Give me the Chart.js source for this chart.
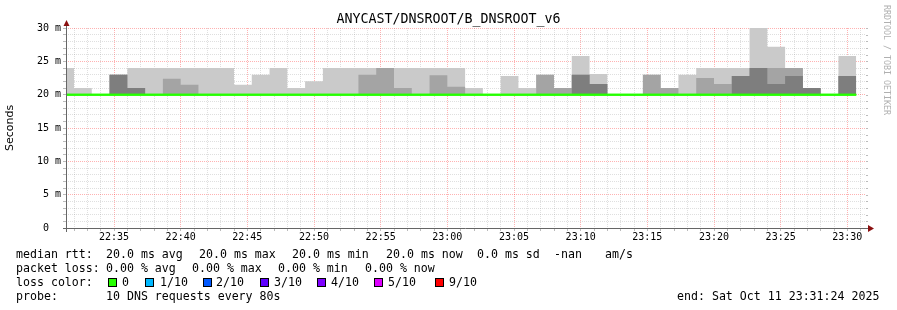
<!DOCTYPE html>
<html lang="en">
<head>
  <meta charset="UTF-8">
  <title>ANYCAST/DNSROOT/B_DNSROOT_v6</title>
  <script src="https://cdn.jsdelivr.net/npm/chart.js"></script>
  <style>
    body {
      margin: 0;
      background: #fff;
    }
    .wrap {
      position: relative;
      width: 897px;
      height: 310px;
      font-family: 'DejaVu Sans Mono', monospace;
      color: #000;
    }
    canvas {
      position: absolute;
      left: 0;
      top: 0;
    }
    .t {
      position: absolute;
      white-space: pre;
      font-size: 11.6px;
      line-height: 14px;
    }
    .title {
      position: absolute;
      left: 0;
      top: 11px;
      width: 897px;
      text-align: center;
      font-size: 13.3px;
      line-height: 16px;
    }
    .credit {
      position: absolute;
      left: 882px;
      top: 5px;
      font-size: 8.3px;
      line-height: 10px;
      color: #b0b0b0;
      writing-mode: vertical-rl;
      white-space: pre;
    }
    .box {
      position: absolute;
      top: 278px;
      width: 7px;
      height: 7px;
      border: 1px solid #000;
    }
  </style>
</head>
<body>
  <div class="wrap">
    <canvas id="chart" width="897" height="310"></canvas>
    <div class="title">ANYCAST/DNSROOT/B_DNSROOT_v6</div>
    <div class="credit">RRDTOOL / TOBI OETIKER</div>

    <!-- legenda -->
    <span class="t" style="left:16px;top:247px">median rtt:</span>
    <span class="t" style="left:106px;top:247px">20.0 ms avg</span>
    <span class="t" style="left:199px;top:247px">20.0 ms max</span>
    <span class="t" style="left:292px;top:247px">20.0 ms min</span>
    <span class="t" style="left:386px;top:247px">20.0 ms now</span>
    <span class="t" style="left:477px;top:247px">0.0 ms sd</span>
    <span class="t" style="left:554px;top:247px">-nan</span>
    <span class="t" style="left:605px;top:247px">am/s</span>

    <span class="t" style="left:16px;top:261px">packet loss:</span>
    <span class="t" style="left:106px;top:261px">0.00 % avg</span>
    <span class="t" style="left:192px;top:261px">0.00 % max</span>
    <span class="t" style="left:278px;top:261px">0.00 % min</span>
    <span class="t" style="left:365px;top:261px">0.00 % now</span>

    <span class="t" style="left:16px;top:275px">loss color:</span>
    <div class="box" style="left:108px;background:#26ff00"></div>
    <span class="t" style="left:122px;top:275px">0</span>
    <div class="box" style="left:145px;background:#00b8ff"></div>
    <span class="t" style="left:160px;top:275px">1/10</span>
    <div class="box" style="left:203px;background:#0059ff"></div>
    <span class="t" style="left:216px;top:275px">2/10</span>
    <div class="box" style="left:260px;background:#5e00ff"></div>
    <span class="t" style="left:274px;top:275px">3/10</span>
    <div class="box" style="left:317px;background:#7e00ff"></div>
    <span class="t" style="left:331px;top:275px">4/10</span>
    <div class="box" style="left:374px;background:#dd00ff"></div>
    <span class="t" style="left:388px;top:275px">5/10</span>
    <div class="box" style="left:435px;background:#ff0000"></div>
    <span class="t" style="left:449px;top:275px">9/10</span>

    <span class="t" style="left:16px;top:289px">probe:</span>
    <span class="t" style="left:106px;top:289px">10 DNS requests every 80s</span>
    <span class="t" style="left:677px;top:289px">end: Sat Oct 11 23:31:24 2025</span>
  </div>

  <script>
    // tijdvenster van de grafiek
    const axisStart = '22:31:24';
    const axisEnd = '23:31:24';

    // einde van elk 80s interval
    const slotEnd = [
      '22:32:00', '22:33:20', '22:34:40', '22:36:00', '22:37:20', '22:38:40', '22:40:00', '22:41:20', '22:42:40', '22:44:00',
      '22:45:20', '22:46:40', '22:48:00', '22:49:20', '22:50:40', '22:52:00', '22:53:20', '22:54:40', '22:56:00', '22:57:20',
      '22:58:40', '23:00:00', '23:01:20', '23:02:40', '23:04:00', '23:05:20', '23:06:40', '23:08:00', '23:09:20', '23:10:40',
      '23:12:00', '23:13:20', '23:14:40', '23:16:00', '23:17:20', '23:18:40', '23:20:00', '23:21:20', '23:22:40', '23:24:00',
      '23:25:20', '23:26:40', '23:28:00', '23:29:20', '23:30:40'
    ];

    // smoke: hoogste ping, 9e en 8e ping (ms)
    const maxRtt = [
      24, 21, 20, 23, 24, 24, 24, 24, 24, 24,
      21.5, 23, 24, 21, 22, 24, 24, 24, 24, 24,
      24, 24, 24, 21, 20, 22.8, 21, 23, 21, 25.8,
      23.1, 20, 20, 23, 21, 23, 24, 24, 24, 30,
      27.2, 24, 21, 20, 25.8
    ];
    const ninthRtt = [
      20, 20, 20, 23, 21, 20, 22.4, 21.5, 20, 20,
      20, 20, 20, 20, 20, 20, 20, 23, 24, 21,
      20, 22.9, 21.2, 20, 20, 20, 20, 23, 21, 23,
      21.6, 20, 20, 23, 21, 20, 22.5, 21.6, 22.8, 24,
      24, 24, 21, 20, 22.8
    ];
    const eighthRtt = [
      20, 20, 20, 23, 21, 20, 20, 20, 20, 20,
      20, 20, 20, 20, 20, 20, 20, 20, 20, 20,
      20, 20, 20, 20, 20, 20, 20, 20, 20, 23,
      21.6, 20, 20, 20, 20, 20, 20, 20, 22.8, 24,
      21.6, 22.8, 21, 20, 22.8
    ];
    const medianRtt = [
      20, 20, 20, 20, 20, 20, 20, 20, 20, 20,
      20, 20, 20, 20, 20, 20, 20, 20, 20, 20,
      20, 20, 20, 20, 20, 20, 20, 20, 20, 20,
      20, 20, 20, 20, 20, 20, 20, 20, 20, 20,
      20, 20, 20, 20, 20
    ];

    // as labels
    const timeLabels = ['22:35', '22:40', '22:45', '22:50', '22:55', '23:00', '23:05', '23:10', '23:15', '23:20', '23:25', '23:30'];
    const rttTicks = [0, 5, 10, 15, 20, 25, 30];
    const rttLabels = ['0  ', '5 m', '10 m', '15 m', '20 m', '25 m', '30 m'];

    function toSec(s) {
      const p = s.split(':').map(Number);
      return p[0] * 3600 + p[1] * 60 + (p[2] || 0);
    }

    const xMin = toSec(axisStart);
    const xMax = toSec(axisEnd);
    const labelSecs = timeLabels.map(toSec);

    // stapjes: eerste punt op begin van de as, waarde geldt tot het einde van het interval
    function series(vals) {
      const pts = [{ x: xMin, y: vals[0] }];
      slotEnd.forEach((t, i) => pts.push({ x: toSec(t), y: vals[i] }));
      return pts;
    }

    const minorGrid = 'rgba(128,128,128,0.25)';
    const majorGrid = 'rgba(255,0,0,0.3)';

    const overlay = {
      id: 'overlay',
      afterDraw(chart) {
        const ctx = chart.ctx;
        const a = chart.chartArea;
        // mediaan boven het grid
        ctx.save();
        ctx.beginPath();
        ctx.rect(a.left, a.top, a.right - a.left, a.bottom - a.top);
        ctx.clip();
        chart.getDatasetMeta(3).controller.draw();
        ctx.restore();

        ctx.save();
        // tick streepjes rechts
        ctx.strokeStyle = '#bbb';
        ctx.lineWidth = 1;
        chart.scales.y.ticks.forEach(t => {
          const y = Math.round(chart.scales.y.getPixelForValue(t.value)) + 0.5;
          ctx.beginPath();
          ctx.moveTo(a.right, y);
          ctx.lineTo(a.right + 2, y);
          ctx.stroke();
        });
        // assen
        ctx.strokeStyle = '#666';
        ctx.beginPath();
        ctx.moveTo(a.left + 0.5, a.bottom + 4);
        ctx.lineTo(a.left + 0.5, a.top - 4);
        ctx.moveTo(a.left - 3, a.bottom + 0.5);
        ctx.lineTo(a.right + 2, a.bottom + 0.5);
        ctx.stroke();
        // pijltjes
        ctx.fillStyle = '#8b1010';
        ctx.beginPath();
        ctx.moveTo(a.left - 2.5, a.top - 2);
        ctx.lineTo(a.left + 3.5, a.top - 2);
        ctx.lineTo(a.left + 0.5, a.top - 8);
        ctx.closePath();
        ctx.fill();
        ctx.beginPath();
        ctx.moveTo(a.right + 2, a.bottom - 3);
        ctx.lineTo(a.right + 2, a.bottom + 4);
        ctx.lineTo(a.right + 8, a.bottom + 0.5);
        ctx.closePath();
        ctx.fill();
        ctx.restore();
      }
    };

    function smoke(label, vals, color, order) {
      return {
        label: label,
        data: series(vals),
        stepped: 'after',
        fill: { value: 20 },
        backgroundColor: color,
        borderColor: 'rgba(0,0,0,0)',
        borderWidth: 0,
        pointRadius: 0,
        order: order
      };
    }

    const ctx = document.getElementById('chart').getContext('2d');
    new Chart(ctx, {
      type: 'line',
      data: {
        datasets: [
          smoke('max', maxRtt, '#cacaca', 3),
          smoke('9th', ninthRtt, '#a4a4a4', 2),
          smoke('8th', eighthRtt, '#7e7e7e', 1),
          {
            label: 'median rtt',
            data: series(medianRtt),
            stepped: 'after',
            fill: false,
            borderColor: '#26ff00',
            borderWidth: 2,
            pointRadius: 0,
            order: 0
          }
        ]
      },
      options: {
        responsive: false,
        animation: false,
        events: [],
        layout: { padding: { left: 0, right: 31, top: 28, bottom: 0 } },
        plugins: {
          legend: { display: false },
          tooltip: { enabled: false }
        },
        scales: {
          x: {
            type: 'linear',
            min: xMin,
            max: xMax,
            z: 1,
            afterBuildTicks: s => {
              const ticks = [];
              for (let v = Math.ceil(xMin / 60) * 60; v <= xMax; v += 60) ticks.push({ value: v });
              s.ticks = ticks;
            },
            afterFit: s => { s.height = 82; },
            ticks: {
              autoSkip: false,
              maxRotation: 0,
              padding: 0,
              color: '#000',
              font: { family: 'DejaVu Sans Mono', size: 10 },
              callback: v => {
                const i = labelSecs.indexOf(v);
                return i >= 0 ? timeLabels[i] : '';
              }
            },
            grid: {
              color: c => labelSecs.includes(c.tick.value) ? majorGrid : minorGrid,
              tickColor: '#bbb',
              tickLength: 3
            },
            border: { display: false, dash: [1, 1] }
          },
          y: {
            type: 'linear',
            min: 0,
            max: 30,
            z: 1,
            afterBuildTicks: s => {
              const ticks = [];
              for (let v = 0; v <= 30; v++) ticks.push({ value: v });
              s.ticks = ticks;
            },
            afterFit: s => { s.width = 66; },
            ticks: {
              autoSkip: false,
              padding: 2,
              color: '#000',
              font: { family: 'DejaVu Sans Mono', size: 10 },
              callback: v => {
                const i = rttTicks.indexOf(v);
                return i >= 0 ? rttLabels[i] : '';
              }
            },
            grid: {
              color: c => rttTicks.includes(c.tick.value) ? majorGrid : minorGrid,
              tickColor: '#bbb',
              tickLength: 3
            },
            border: { display: false, dash: [1, 1] },
            title: {
              display: true,
              text: 'Seconds',
              color: '#000',
              font: { family: 'DejaVu Sans', size: 11 },
              padding: { top: 4, bottom: 0 }
            }
          }
        }
      },
      plugins: [overlay]
    });
  </script>
</body>
</html>
